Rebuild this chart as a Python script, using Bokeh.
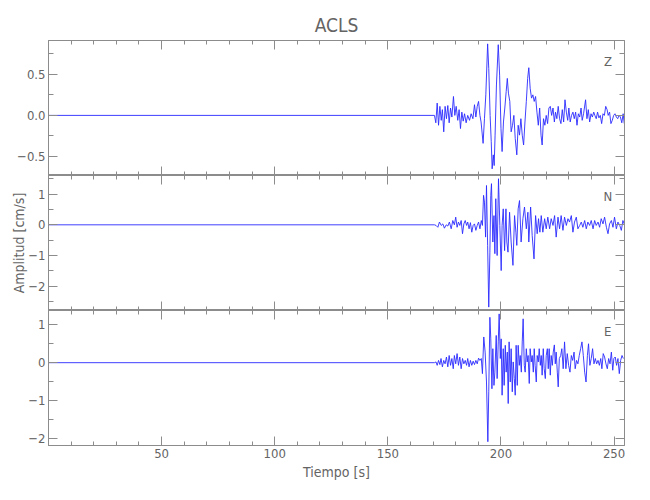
from bokeh.plotting import figure
from bokeh.layouts import column
from bokeh.models import LinearAxis, SingleIntervalTicker, Range1d, Label
from bokeh.embed import file_html
from bokeh.resources import INLINE

title_text = "ACLS"
x_label = "Tiempo [s]"
y_label = "Amplitud [cm/s]"
x_limits = (0.0, 254.6)
comp_names = ["Z", "N", "E"]

# Z component
z_t = [0.0, 170.6, 171.2, 171.8, 172.4, 173.0, 173.6, 174.1, 174.7, 175.3,
       175.9, 176.5, 177.1, 177.7, 178.3, 179.0, 179.6, 180.2, 180.9, 181.5,
       182.1, 182.7, 183.3, 183.9, 184.6, 185.3, 186.1, 186.8, 187.6, 188.3,
       188.9, 189.5, 190.1, 190.7, 191.2, 192.1, 192.7, 193.3, 194.1, 194.6,
       195.2, 195.7, 196.1, 196.6, 197.0, 197.4, 198.0, 198.8, 199.4, 200.0,
       200.5, 201.1, 201.7, 202.3, 202.8, 203.3, 203.9, 204.5, 205.1, 205.7,
       206.3, 207.0, 207.6, 208.2, 208.8, 209.4, 210.0, 210.6, 211.2, 211.8,
       212.3, 212.9, 213.5, 214.1, 214.7, 215.3, 215.9, 216.5, 217.1, 217.7,
       218.2, 218.8, 219.4, 220.0, 220.6, 221.2, 221.8, 222.4, 223.0, 223.6,
       224.1, 224.7, 225.3, 225.9, 226.5, 227.1, 227.7, 228.3, 228.9, 229.5,
       230.0, 230.6, 231.2, 231.8, 232.4, 233.0, 233.6, 234.2, 234.8, 235.4,
       235.9, 236.5, 237.4, 238.0, 238.6, 239.2, 239.8, 240.4, 241.0, 241.5,
       242.1, 242.7, 243.3, 243.9, 244.5, 245.1, 245.7, 246.3, 246.9, 247.4,
       248.0, 248.6, 249.2, 249.8, 250.4, 251.0, 251.6, 252.2, 252.8, 253.4,
       254.0, 254.5]
z_v = [0, 0, -0.09, 0.15, -0.12, 0.11, -0.06, 0.07, -0.20, 0.11,
       -0.04, 0.12, -0.09, 0.09, -0.02, 0.23, 0.00, 0.11, -0.06, 0.07,
       -0.16, 0.04, -0.07, 0.02, -0.09, 0.00, -0.06, 0.02, -0.04, 0.13,
       -0.02, 0.11, 0.17, 0.00, -0.08, -0.34, -0.04, 0.25, 0.87, 0.57,
       0.00, -0.32, -0.65, -0.48, -0.61, -0.24, 0.37, 0.86, 0.49, -0.16,
       -0.44, -0.08, 0.09, 0.29, 0.45, 0.27, 0.17, -0.20, -0.12, 0.00,
       -0.28, -0.48, -0.12, -0.24, -0.04, -0.24, -0.36, -0.08, 0.17, 0.45,
       0.58, 0.33, 0.21, 0.25, 0.17, 0.23, 0.04, -0.12, 0.09, -0.24,
       -0.36, -0.04, -0.12, 0.00, -0.10, 0.09, 0.11, 0.00, 0.09, -0.08,
       0.04, -0.04, 0.11, -0.04, -0.10, 0.07, -0.08, 0.19, 0.04, -0.06,
       0.09, -0.08, 0.00, 0.04, -0.04, 0.04, -0.12, 0.02, -0.02, 0.09,
       -0.06, 0.02, 0.19, -0.04, 0.07, -0.08, 0.02, -0.02, 0.04, 0.00,
       -0.04, 0.04, -0.03, 0.00, -0.10, 0.02, 0.00, 0.11, 0.07, 0.00,
       0.04, -0.10, -0.06, 0.00, 0.02, -0.02, -0.04, 0.00, -0.02, -0.09,
       0.02, -0.10]

# N component
n_t = [0.0, 170.6, 171.3, 172.1, 172.8, 173.6, 174.3, 175.0, 175.8, 176.5,
       177.2, 178.0, 178.7, 179.4, 180.0, 180.6, 181.2, 181.8, 182.4, 183.0,
       183.6, 184.2, 184.8, 185.3, 185.9, 186.5, 187.1, 187.7, 188.3, 188.9,
       189.5, 190.1, 190.7, 191.3, 191.8, 192.3, 192.7, 193.2, 193.6, 194.1,
       194.6, 195.1, 195.5, 195.8, 196.4, 196.9, 197.3, 197.7, 198.3, 198.9,
       199.5, 200.1, 200.5, 201.0, 201.6, 202.2, 202.6, 203.1, 203.8, 204.5,
       205.3, 206.0, 206.6, 207.0, 207.6, 208.2, 208.9, 209.7, 210.4, 211.2,
       211.9, 212.3, 213.1, 213.8, 214.6, 215.3, 216.0, 216.6, 217.2, 217.8,
       218.5, 219.3, 220.0, 220.7, 221.5, 222.2, 223.0, 223.7, 224.4, 225.2,
       225.9, 226.6, 227.4, 228.1, 228.9, 229.6, 230.3, 231.1, 231.8, 232.5,
       233.3, 234.0, 234.8, 235.5, 236.2, 237.0, 237.7, 238.4, 239.2, 239.9,
       240.7, 241.4, 242.1, 242.9, 243.6, 244.3, 245.1, 245.8, 246.6, 247.3,
       248.0, 248.8, 249.5, 250.2, 251.0, 251.7, 252.5, 253.2, 253.9, 254.6]
n_v = [0, 0, -0.02, -0.08, 0.09, -0.02, 0.03, -0.11, 0.00, -0.04,
       0.09, -0.13, 0.14, 0.00, 0.25, -0.08, 0.09, -0.02, 0.14, -0.29,
       0.03, 0.14, -0.02, 0.09, -0.13, 0.07, -0.24, -0.02, 0.03, -0.18,
       -0.02, 0.09, -0.13, 0.14, -0.02, 0.96, 0.74, -0.40, 1.28, -0.67,
       -2.68, -0.89, 0.96, 1.34, -0.56, 0.30, -0.94, 0.85, -1.00, 1.50,
       -0.02, -1.49, -0.02, 0.52, -0.84, 0.52, -0.56, -0.89, 0.41, -0.56,
       -1.32, 0.30, -0.24, -0.67, 0.52, 0.79, -0.56, 0.20, 0.58, -0.13,
       0.41, -0.56, 0.58, -0.35, -1.11, 0.30, -0.29, 0.20, -0.24, 0.30,
       -0.24, 0.20, -0.13, 0.25, -0.13, 0.20, -0.02, 0.30, -0.40, 0.25,
       -0.13, 0.30, -0.18, 0.25, -0.02, 0.20, 0.09, 0.30, -0.24, 0.09,
       0.25, -0.13, -0.02, 0.09, -0.08, 0.14, -0.13, 0.09, -0.02, 0.14,
       -0.13, 0.14, -0.02, 0.09, -0.08, 0.20, 0.03, 0.25, -0.08, -0.29,
       0.03, 0.14, -0.08, 0.25, -0.13, 0.09, -0.02, -0.18, 0.14, 0.00]

# E component
e_t = [0.0, 170.6, 171.3, 171.8, 172.4, 173.0, 173.5, 174.1, 174.7, 175.3,
       175.9, 176.5, 177.1, 177.7, 178.3, 178.9, 179.4, 180.0, 180.6, 181.2,
       181.8, 182.4, 183.0, 183.6, 184.2, 184.8, 185.3, 185.9, 186.5, 187.1,
       187.7, 188.3, 188.9, 189.5, 190.1, 190.7, 191.3, 191.8, 192.4, 193.0,
       193.6, 194.2, 194.6, 195.1, 195.5, 196.0, 196.4, 196.9, 197.3, 197.9,
       198.3, 198.8, 199.2, 199.7, 200.1, 200.5, 201.0, 201.4, 201.9, 202.3,
       202.8, 203.2, 203.6, 204.1, 204.5, 205.0, 205.4, 205.9, 206.3, 206.7,
       207.2, 207.6, 208.1, 208.5, 209.0, 209.4, 209.8, 210.3, 210.7, 211.2,
       211.6, 212.0, 212.5, 212.9, 213.4, 213.8, 214.3, 214.7, 215.1, 215.6,
       216.0, 216.5, 216.9, 217.4, 217.8, 218.2, 218.7, 219.1, 219.6, 220.0,
       220.5, 220.9, 221.3, 221.8, 222.2, 222.7, 223.1, 223.6, 224.0, 224.4,
       224.9, 225.3, 225.8, 226.4, 226.9, 227.5, 228.1, 228.7, 229.3, 229.9,
       230.5, 231.1, 231.7, 232.3, 232.8, 233.4, 234.0, 234.6, 235.2, 235.8,
       236.4, 237.0, 237.6, 238.2, 238.7, 239.3, 239.9, 240.5, 241.1, 241.7,
       242.3, 242.9, 243.5, 244.1, 244.6, 245.2, 245.8, 246.4, 247.0, 247.6,
       248.2, 248.8, 249.4, 249.9, 250.5, 251.1, 251.7, 252.3, 252.9, 253.5,
       254.1]
e_v = [0, 0, 0.02, -0.07, 0.06, -0.05, 0.11, -0.11, 0.06, -0.03,
       0.15, -0.11, 0.19, -0.07, 0.11, -0.16, 0.19, -0.03, 0.24, -0.07,
       0.15, -0.16, 0.11, -0.03, 0.06, -0.07, 0.11, -0.11, 0.06, -0.07,
       0.04, -0.05, 0.06, -0.03, 0.12, 0.06, 0.11, -0.29, 0.68, 0.28,
       -0.51, -2.09, -0.77, 1.20, 0.63, -0.69, 0.37, -0.60, -0.25, 0.72,
       -0.42, 0.55, 1.29, 0.11, 0.63, -0.86, 0.37, -0.60, 0.46, -0.25,
       0.28, -1.08, 0.55, -0.51, 0.37, -0.77, 0.02, -0.42, -0.86, 0.46,
       -0.60, 0.46, -0.07, 0.19, -0.25, 0.55, 1.16, -0.07, -0.25, 0.37,
       0.02, 0.19, -0.55, 0.37, 0.02, 0.19, -0.25, 0.37, -0.07, -0.51,
       0.19, 0.02, 0.37, -0.07, 0.19, -0.33, 0.37, -0.16, -0.42, 0.19,
       0.37, -0.16, 0.37, -0.33, 0.19, -0.07, 0.28, 0.47, -0.03, 0.28,
       -0.25, -0.64, 0.11, 0.19, 0.37, -0.16, 0.55, -0.16, 0.24, -0.07,
       -0.25, 0.19, 0.06, 0.28, -0.16, 0.06, -0.03, 0.19, 0.37, 0.55,
       0.19, -0.25, -0.51, 0.19, 0.50, -0.07, 0.11, 0.37, -0.03, 0.11,
       -0.03, 0.06, -0.07, 0.11, -0.16, 0.24, 0.15, -0.03, -0.16, 0.11,
       -0.03, 0.28, -0.20, 0.11, 0.15, -0.07, 0.11, -0.29, 0.06, 0.19,
       0.11]

y_limits = [(-0.731, 0.911), (-2.79, 1.606), (-2.19, 1.38)]
y_major = [0.5, 1.0, 1.0]
y_tick_labels = [
    {-0.5: "\u22120.5", 0.0: "0.0", 0.5: "0.5"},
    {1.0: "1", 0.0: "0", -1.0: "\u22121", -2.0: "\u22122"},
    {1.0: "1", 0.0: "0", -1.0: "\u22121", -2.0: "\u22122"},
]
comp_label_pos = [(247.3, 0.66), (247.2, 0.93), (247.2, 0.83)]
x_tick_labels = {0: "", 50: "50", 100: "100", 150: "150", 200: "200", 250: "250"}

FONT = "DejaVu Sans Condensed, Liberation Sans Narrow, DejaVu Sans, sans-serif"
TXT = "#646464"
AX = "#8c8c8c"
LINE = "#2a2aff"

xr = Range1d(*x_limits)


def make_axis(show_labels, ticker, overrides=None, is_x=True):
    ax = LinearAxis(ticker=ticker)
    ax.axis_line_color = AX
    ax.major_tick_line_color = AX
    ax.minor_tick_line_color = AX
    ax.major_tick_out = 0
    ax.minor_tick_out = 0
    ax.major_tick_in = 9
    ax.minor_tick_in = 4 if is_x else 5
    if show_labels:
        ax.major_label_text_font = FONT
        ax.major_label_text_font_size = "13px"
        ax.major_label_text_color = TXT
        ax.major_label_standoff = 3
        if overrides:
            ax.major_label_overrides = overrides
    else:
        ax.major_label_text_font_size = "0px"
        ax.major_label_text_color = None
        ax.major_label_standoff = 0
    return ax


panels = []
series = [(z_t, z_v), (n_t, n_v), (e_t, e_v)]
tops = [40, 0, 0]
bottoms = [0, 0, 46]

for i, (t, v) in enumerate(series):
    p = figure(frame_width=576, frame_height=135, x_range=xr,
               y_range=Range1d(*y_limits[i]),
               output_backend="svg", toolbar_location=None,
               x_axis_location=None, y_axis_location=None,
               min_border_left=48, min_border_right=6,
               min_border_top=tops[i], min_border_bottom=bottoms[i])
    p.grid.visible = False
    p.outline_line_color = AX
    p.background_fill_color = "white"
    p.border_fill_color = "white"

    xt = lambda: SingleIntervalTicker(interval=50, num_minor_ticks=5)
    yt = lambda: SingleIntervalTicker(interval=y_major[i], num_minor_ticks=2)

    left = make_axis(True, yt(), y_tick_labels[i], is_x=False)
    right = make_axis(False, yt(), is_x=False)
    p.add_layout(left, "left")
    p.add_layout(right, "right")
    above = make_axis(False, xt())
    p.add_layout(above, "above")
    below = make_axis(i == 2, xt(), x_tick_labels)
    p.add_layout(below, "below")

    if i == 1:
        left.axis_label = y_label
        left.axis_label_text_font = FONT
        left.axis_label_text_font_size = "14px"
        left.axis_label_text_font_style = "normal"
        left.axis_label_text_color = TXT
        left.axis_label_standoff = -2
    if i == 2:
        below.axis_label = x_label
        below.axis_label_text_font = FONT
        below.axis_label_text_font_size = "14px"
        below.axis_label_text_font_style = "normal"
        below.axis_label_text_color = TXT
        below.axis_label_standoff = 3
    if i == 0:
        p.title.text = title_text
        p.title.align = "center"
        p.title.text_font = FONT
        p.title.text_font_size = "19px"
        p.title.text_font_style = "normal"
        p.title.text_color = TXT
        p.title.standoff = 10

    p.line(t, v, line_color=LINE, line_width=0.9)
    lx, ly = comp_label_pos[i]
    p.add_layout(Label(x=lx, y=ly, text=comp_names[i], text_font=FONT,
                       text_font_size="13px", text_color=TXT,
                       text_align="center", text_baseline="middle"))
    panels.append(p)

layout = column(*panels, spacing=0)
open("out.html", "w").write(file_html(layout, INLINE))
